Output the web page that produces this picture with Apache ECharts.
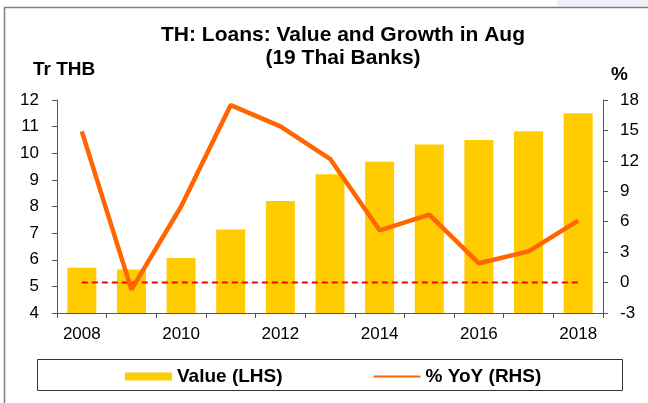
<!DOCTYPE html>
<html>
<head>
<meta charset="utf-8">
<script src="https://cdn.jsdelivr.net/npm/echarts@6/dist/echarts.min.js"></script>
<style>
html,body{margin:0;padding:0;background:#fff;}
#canvas{width:648px;height:403px;}
</style>
</head>
<body>
<div id="canvas"></div>
<script>
var years = ['2008','2009','2010','2011','2012','2013','2014','2015','2016','2017','2018'];
var loanValue = [5.7, 5.63, 6.07, 7.14, 8.21, 9.21, 9.68, 10.33, 10.5, 10.83, 11.5];
var loanYoY = [14.9, -0.7, 7.5, 17.5, 15.4, 12.2, 5.15, 6.7, 1.9, 3.07, 6.1];
var zeroLine = [0, 0, 0, 0, 0, 0, 0, 0, 0, 0, 0];

var font = 'Liberation Sans, Arial, sans-serif';

var myChart = echarts.init(document.getElementById('canvas'));

var option = {
    backgroundColor: '#fff',
    animation: false,
    graphic: [
        {
            type: 'rect',
            shape: {x: 557, y: 0, width: 91, height: 7},
            style: {fill: '#eef1f8'}
        },
        {
            type: 'rect',
            shape: {x: 4.5, y: 7.5, width: 700, height: 500},
            style: {fill: 'none', stroke: '#7f7f7f', lineWidth: 1.5}
        },
        {
            type: 'rect',
            shape: {x: 37.5, y: 359.5, width: 585, height: 31},
            style: {fill: 'none', stroke: '#333', lineWidth: 1}
        },
        {
            // chart title, centred a bit right of the canvas middle like the source
            type: 'text',
            x: 343, y: 24,
            style: {
                text: 'TH: Loans: Value and Growth in Aug\n(19 Thai Banks)',
                font: 'bold 21px ' + font,
                fill: '#000',
                textAlign: 'center',
                lineHeight: 23
            }
        },
        {
            type: 'text',
            left: 33, top: 60,
            style: {text: 'Tr THB', font: 'bold 19px ' + font, fill: '#000'}
        },
        {
            type: 'text',
            left: 611, top: 65,
            style: {text: '%', font: 'bold 19px ' + font, fill: '#000'}
        }
    ],
    legend: {
        left: 120,
        top: 362,
        itemWidth: 47,
        itemHeight: 8,
        itemGap: 90,
        textStyle: {fontFamily: font, fontSize: 19, fontWeight: 'bold', color: '#000'},
        data: [
            {name: 'Value (LHS)', icon: 'rect'},
            {name: '% YoY (RHS)', itemStyle: {opacity: 0}}
        ]
    },
    grid: {
        left: 57,
        right: 45,
        top: 100,
        bottom: 90,
        containLabel: false
    },
    xAxis: [
        {
            type: 'category',
            data: years,
            boundaryGap: true,
            axisLine: {onZero: false, lineStyle: {color: '#555', width: 1}},
            axisTick: {show: true, length: 5, interval: 0, lineStyle: {color: '#555'}},
            axisLabel: {interval: 1, color: '#000', fontFamily: font, fontSize: 17, margin: 13}
        }
    ],
    yAxis: [
        {
            type: 'value',
            min: 4,
            max: 12,
            interval: 1,
            splitLine: {show: false},
            axisLine: {show: true, lineStyle: {color: '#555', width: 1}},
            axisTick: {show: true, length: 5, lineStyle: {color: '#555'}},
            axisLabel: {color: '#000', fontFamily: font, fontSize: 17, margin: 18}
        },
        {
            type: 'value',
            min: -3,
            max: 18,
            interval: 3,
            splitLine: {show: false},
            axisLine: {show: true, lineStyle: {color: '#555', width: 1}},
            axisTick: {show: true, length: 5, lineStyle: {color: '#555'}},
            axisLabel: {color: '#000', fontFamily: font, fontSize: 17, margin: 17}
        }
    ],
    series: [
        {
            name: 'Value (LHS)',
            type: 'bar',
            yAxisIndex: 0,
            barWidth: 29,
            itemStyle: {color: '#ffcc00'},
            data: loanValue
        },
        {
            name: 'zero',
            type: 'line',
            yAxisIndex: 1,
            symbol: 'none',
            lineStyle: {color: '#ff0000', width: 2, type: [6, 4]},
            data: zeroLine
        },
        {
            name: '% YoY (RHS)',
            type: 'line',
            yAxisIndex: 1,
            symbol: 'none',
            itemStyle: {color: '#ff6600'},
            lineStyle: {color: '#ff6600', width: 4.5},
            data: loanYoY
        }
    ]
};

myChart.setOption(option);
</script>
</body>
</html>
